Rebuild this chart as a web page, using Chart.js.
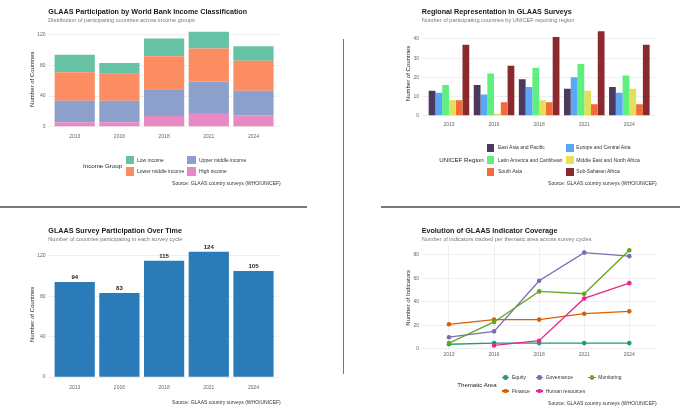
<!DOCTYPE html>
<html><head><meta charset="utf-8">
<script src="https://cdn.jsdelivr.net/npm/chart.js@4.4.1/dist/chart.umd.min.js"></script>
<style>
html,body{margin:0;padding:0;background:#fff;}
#page{position:relative;width:680px;height:414px;overflow:hidden;font-family:"Liberation Sans",Arial,sans-serif;}
#page canvas{position:absolute;left:0;top:0;}
.t{position:absolute;white-space:nowrap;line-height:1;}
.sep{position:absolute;background:#777;}
</style></head><body>
<div id="page">
<canvas id="c1" width="680" height="414"></canvas>
<canvas id="c2" width="680" height="414"></canvas>
<canvas id="c3" width="680" height="414"></canvas>
<canvas id="c4" width="680" height="414"></canvas>
</div>
<script>
// ---------- DATA ----------
const years = ['2013', '2016', '2018', '2021', '2024'];

// Panel 1: income groups (stacked)
const incomeHigh        = [6, 6, 14, 18, 15];
const incomeUpperMiddle = [28, 28, 35, 41, 32];
const incomeLowerMiddle = [37, 35, 43, 43, 39];
const incomeLow         = [23, 14, 23, 22, 19];
const ticksIncome = [0, 40, 80, 120];

// Panel 2: UNICEF regions (grouped)
const regionEastAsiaPacific      = [13, 16, 19, 14, 15];
const regionEuropeCentralAsia    = [12, 11, 15, 20, 12];
const regionLatinAmericaCarib    = [16, 22, 25, 27, 21];
const regionMiddleEastNorthAfr   = [8, 1, 8, 13, 14];
const regionSouthAsia            = [8, 7, 7, 6, 6];
const regionSubSaharanAfrica     = [37, 26, 41, 44, 37];
const ticksRegion = [0, 10, 20, 30, 40];

// Panel 3: total participation
const totalCountries = [94, 83, 115, 124, 105];
const ticksTotal = [0, 40, 80, 120];

// Panel 4: indicators per thematic area
const indEquity         = [4, 5, 5, 5, 5];
const indFinance        = [21, 25, 25, 30, 32];
const indGovernance     = [10, 15, 58, 82, 79];
const indHumanResources = [null, 3, 7, 43, 56];
const indMonitoring     = [5, 23, 49, 47, 84];
const ticksIndicators = [0, 20, 40, 60, 80];

// ---------- HELPERS ----------
const FONT = '"Liberation Sans", Arial, sans-serif';
Chart.defaults.font.family = FONT;
const page = document.getElementById('page');

function txt(str, x, cy, size, o) {
  o = o || {};
  const d = document.createElement('div');
  d.className = 't';
  d.textContent = str;
  d.style.fontSize = size + 'px';
  d.style.top = (cy - size / 2) + 'px';
  if (o.right) d.style.right = (680 - x) + 'px'; else d.style.left = x + 'px';
  d.style.color = o.color || '#333';
  if (o.bold) d.style.fontWeight = 'bold';
  page.appendChild(d);
}
function box(x, y, w, h, color, extra) {
  const d = document.createElement('div');
  d.style.position = 'absolute';
  d.style.left = x + 'px'; d.style.top = y + 'px';
  d.style.width = w + 'px'; d.style.height = h + 'px';
  d.style.background = color;
  if (extra) Object.assign(d.style, extra);
  page.appendChild(d);
}
function xy(arr) {
  return arr.map((v, i) => ({x: i, y: v})).filter(p => p.y !== null);
}

function opts(g) {
  const xH = 14;
  return {
    responsive: false,
    animation: false,
    events: [],
    layout: {padding: {left: g.left - g.yW, top: g.top, right: 680 - g.right, bottom: 414 - g.bottom - xH}},
    plugins: {legend: {display: false}, tooltip: {enabled: false}},
    scales: {
      x: {
        type: 'linear', min: -0.6, max: 4.6, offset: false, stacked: !!g.stacked,
        afterBuildTicks: s => { s.ticks = years.map((_, i) => ({value: i})); },
        afterFit: s => { s.height = xH; },
        ticks: {callback: v => (years[v] !== undefined ? years[v] : ''), padding: g.xPad,
                font: {size: 5}, color: '#666', maxRotation: 0, autoSkip: false},
        grid: {display: !!g.xGrid, drawTicks: false, color: '#ebebeb', lineWidth: 0.8, offset: false},
        border: {display: false}
      },
      y: {
        min: g.yMin, max: g.yMax, stacked: !!g.stacked,
        afterBuildTicks: s => { s.ticks = g.yTicks.map(v => ({value: v})); },
        afterFit: s => { s.width = g.yW; },
        ticks: {padding: g.yPad, font: {size: 5}, color: '#666'},
        grid: {drawTicks: false, color: '#ebebeb', lineWidth: 0.8},
        border: {display: false},
        title: {display: true, text: g.yTitle, font: {size: 6, lineHeight: 1}, color: '#222', padding: 0}
      }
    }
  };
}

// ---------- PANEL 1 ----------
new Chart(document.getElementById('c1'), {
  type: 'bar',
  data: {
    datasets: [
      {label: 'High income', data: xy(incomeHigh), backgroundColor: '#e78ac3'},
      {label: 'Upper middle income', data: xy(incomeUpperMiddle), backgroundColor: '#8da0cb'},
      {label: 'Lower middle income', data: xy(incomeLowerMiddle), backgroundColor: '#fc8d62'},
      {label: 'Low income', data: xy(incomeLow), backgroundColor: '#66c2a5'}
    ].map(d => Object.assign(d, {categoryPercentage: 0.9, barPercentage: 1.0, borderWidth: 0}))
  },
  options: opts({left: 47.9, right: 280.3, top: 26.9, bottom: 131.5, yW: 18.6, yPad: 2.3, xPad: 1.8,
                 yMin: -6.2, yMax: 130.2, yTicks: ticksIncome, stacked: true, yTitle: 'Number of Countries'})
});

// ---------- PANEL 2 ----------
const regionColors = ['#4b3a5e', '#5ba7f5', '#5ef07f', '#e3df5a', '#f26b38', '#8a2a2e'];
const regionNames = ['East Asia and Pacific', 'Europe and Central Asia', 'Latin America and Caribbean',
                     'Middle East and North Africa', 'South Asia', 'Sub-Saharan Africa'];
const regionSeries = [regionEastAsiaPacific, regionEuropeCentralAsia, regionLatinAmericaCarib,
                      regionMiddleEastNorthAfr, regionSouthAsia, regionSubSaharanAfrica];
new Chart(document.getElementById('c2'), {
  type: 'bar',
  data: {
    datasets: regionSeries.map((s, i) => ({label: regionNames[i], data: xy(s), backgroundColor: regionColors[i],
      categoryPercentage: 0.9, barPercentage: 1.0, borderWidth: 0}))
  },
  options: opts({left: 421.9, right: 656.4, top: 27.1, bottom: 119.9, yW: 16.2, yPad: 2.9, xPad: 2.1,
                 yMin: -2.2, yMax: 46.2, yTicks: ticksRegion, yTitle: 'Number of Countries'})
});

// ---------- PANEL 3 ----------
const barLabels = {
  id: 'barLabels',
  afterDatasetsDraw(chart) {
    const ctx = chart.ctx;
    const meta = chart.getDatasetMeta(0);
    ctx.save();
    ctx.font = 'bold 6px ' + FONT;
    ctx.fillStyle = '#1a1a1a';
    ctx.textAlign = 'center';
    ctx.textBaseline = 'middle';
    meta.data.forEach((el, i) => { ctx.fillText(String(totalCountries[i]), el.x, el.y - 4.3); });
    ctx.restore();
  }
};
new Chart(document.getElementById('c3'), {
  type: 'bar',
  data: {datasets: [{label: 'Countries', data: xy(totalCountries), backgroundColor: '#2b7bb9',
                     categoryPercentage: 0.9, barPercentage: 1.0, borderWidth: 0}]},
  options: opts({left: 47.9, right: 280.3, top: 245.4, bottom: 383.3, yW: 18.6, yPad: 2.3, xPad: 1.7,
                 yMin: -6.2, yMax: 130.2, yTicks: ticksTotal, yTitle: 'Number of Countries'}),
  plugins: [barLabels]
});

// ---------- PANEL 4 ----------
const themeNames = ['Equity', 'Finance', 'Governance', 'Human resources', 'Monitoring'];
const themeColors = ['#1b9e77', '#d95f02', '#7570b3', '#e7298a', '#66a61e'];
const themeSeries = [indEquity, indFinance, indGovernance, indHumanResources, indMonitoring];
new Chart(document.getElementById('c4'), {
  type: 'line',
  data: {
    datasets: themeSeries.map((s, i) => ({label: themeNames[i], data: xy(s), borderColor: themeColors[i],
      backgroundColor: themeColors[i], pointBackgroundColor: themeColors[i], pointBorderWidth: 0,
      pointRadius: 2.3, borderWidth: 1.3, tension: 0, fill: false, order: 5 - i}))
  },
  options: opts({left: 421.95, right: 656.35, top: 245.5, bottom: 350.2, yW: 16.25, yPad: 2.9, xPad: 1.5,
                 yMin: -1.05, yMax: 88.05, yTicks: ticksIndicators, xGrid: true, yTitle: 'Number of Indicators'})
});

// ---------- TEXT: titles, legends, captions ----------
const SRC = 'Source: GLAAS country surveys (WHO/UNICEF)';
// Panel 1
txt('GLAAS Participation by World Bank Income Classification', 48.3, 12, 7.2, {bold: true, color: '#1a1a1a'});
txt('Distribution of participating countries across income groups', 48.3, 20.7, 5.6, {color: '#777'});
txt('Income Group', 83, 165.7, 6.2, {color: '#222'});
[['Low income', '#66c2a5', 0, 0], ['Upper middle income', '#8da0cb', 1, 0],
 ['Lower middle income', '#fc8d62', 0, 1], ['High income', '#e78ac3', 1, 1]].forEach(([n, c, col, row]) => {
  const cy = row ? 171.6 : 160;
  const sx = col ? 187.3 : 125.7;
  box(sx, cy - 4.15, 8.3, 8.3, c);
  txt(n, col ? 199 : 137, cy, 5, {color: '#333'});
});
txt(SRC, 280.7, 183.3, 5, {right: true, color: '#333'});

// Panel 2
txt('Regional Representation in GLAAS Surveys', 421.7, 12, 7.2, {bold: true, color: '#1a1a1a'});
txt('Number of participating countries by UNICEF reporting region', 421.7, 20.7, 5.6, {color: '#777'});
txt('UNICEF Region', 439.3, 160, 6.2, {color: '#222'});
regionNames.forEach((n, i) => {
  const col = i % 2, row = Math.floor(i / 2);
  const cy = [147.7, 160, 171.7][row];
  box(col ? 566 : 486.7, cy - 4, 7.5, 8, regionColors[i]);
  txt(n, col ? 576.3 : 498, cy, 5, {color: '#333'});
});
txt(SRC, 656.7, 183.7, 5, {right: true, color: '#333'});

// Panel 3
txt('GLAAS Survey Participation Over Time', 48.3, 230.3, 7.2, {bold: true, color: '#1a1a1a'});
txt('Number of countries participating in each survey cycle', 48.3, 239.3, 5.6, {color: '#777'});
txt(SRC, 280.7, 402.7, 5, {right: true, color: '#333'});

// Panel 4
txt('Evolution of GLAAS Indicator Coverage', 421.7, 230.3, 7.2, {bold: true, color: '#1a1a1a'});
txt('Number of indicators tracked per thematic area across survey cycles', 421.7, 239.3, 5.6, {color: '#777'});
txt('Thematic Area', 457.3, 385, 6.1, {color: '#222'});
const legPos = [[502, 377.5], [502, 391], [535.7, 377.5], [535.7, 391], [588.3, 377.5]];
themeNames.forEach((n, i) => {
  const [mx, cy] = legPos[i];
  box(mx, cy - 0.65, 7.3, 1.3, themeColors[i]);
  box(mx + 3.65 - 2.3, cy - 2.3, 4.6, 4.6, themeColors[i], {borderRadius: '50%'});
  txt(n, mx + 10, cy, 5, {color: '#333'});
});
txt(SRC, 656.7, 403, 5, {right: true, color: '#333'});

// ---------- separators ----------
box(342.5, 39.3, 1.6, 335, '#777');
box(0, 206.4, 307, 1.4, '#777');
box(381, 206.4, 299, 1.4, '#777');
</script>
</body></html>
